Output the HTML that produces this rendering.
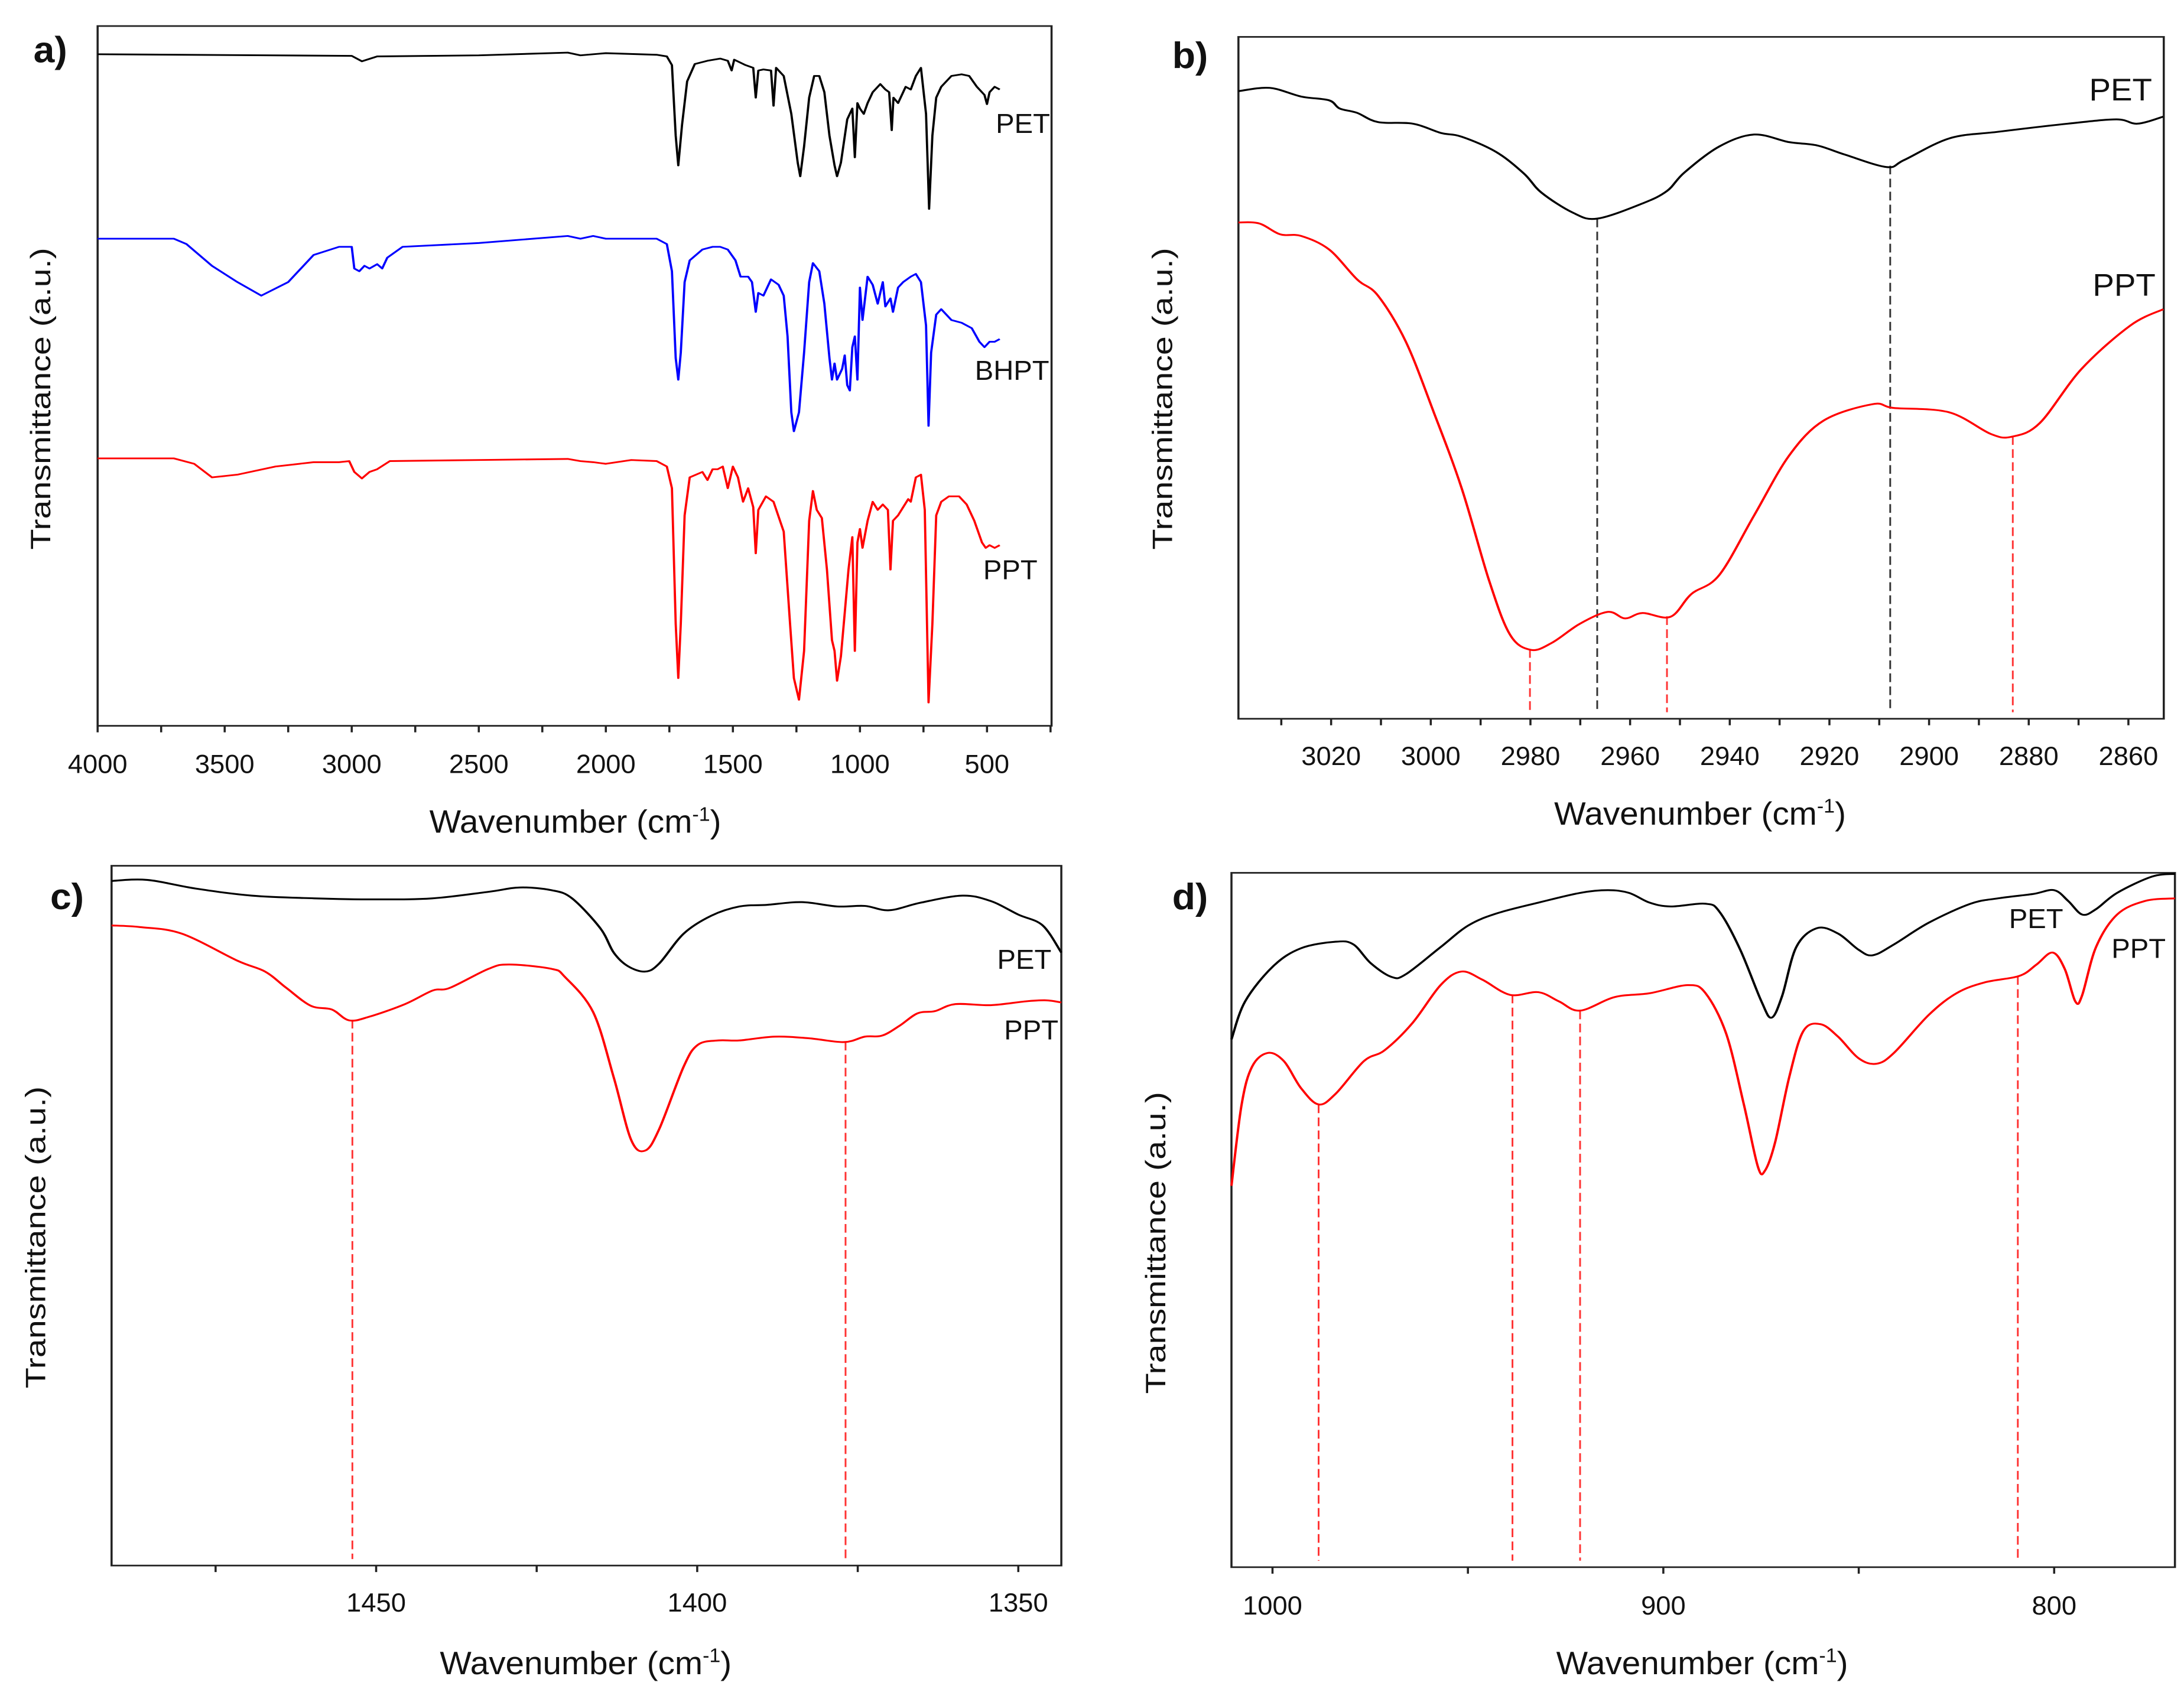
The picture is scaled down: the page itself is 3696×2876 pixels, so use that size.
<!DOCTYPE html>
<html><head><meta charset="utf-8">
<style>
html,body{margin:0;padding:0;background:#fff;overflow:hidden;}
svg{display:block;}
text{font-family:"Liberation Sans",sans-serif;fill:#111;}
</style></head>
<body>
<svg id="fig" width="3696" height="2876" viewBox="0 0 3132 3132" preserveAspectRatio="none" xmlns="http://www.w3.org/2000/svg"></svg>
<script>
// ---------- Panel a data (wavenumber, a.u. offset; larger = lower transmittance) ----------
const aTicks=[4000,3500,3000,2500,2000,1500,1000,500];
const aPET=[[4000,100],[3000,103],[2960,113],[2900,104],[2500,102],[2150,97],[2100,102],[2000,98],[1800,101],[1760,104],[1740,120],[1725,250],[1715,305],[1700,230],[1680,150],[1650,118],[1600,112],[1550,108],[1520,112],[1505,130],[1495,110],[1450,120],[1420,125],[1410,180],[1400,130],[1380,128],[1350,130],[1340,195],[1330,125],[1300,140],[1270,210],[1245,300],[1235,325],[1220,270],[1200,180],[1180,140],[1160,140],[1140,170],[1120,250],[1100,305],[1090,325],[1075,300],[1050,220],[1030,200],[1020,290],[1010,190],[1000,200],[985,210],[970,190],[950,170],[920,155],[900,165],[885,170],[875,240],[868,180],[850,190],[820,160],[800,165],[780,140],[760,125],[740,210],[728,385],[715,250],[700,180],[680,160],[640,140],[600,137],[570,140],[540,160],[510,175],[500,192],[490,170],[470,160],[450,165]];
const aBHPT=[[4000,440],[3700,440],[3650,450],[3550,490],[3450,520],[3356,545],[3250,520],[3150,470],[3050,455],[3000,455],[2990,495],[2970,500],[2950,490],[2930,495],[2900,487],[2880,495],[2860,475],[2800,455],[2500,448],[2150,435],[2100,440],[2050,435],[2000,440],[1800,440],[1760,450],[1740,500],[1725,660],[1715,700],[1705,650],[1690,520],[1670,480],[1620,460],[1580,455],[1550,455],[1520,460],[1490,480],[1470,510],[1440,510],[1425,520],[1410,575],[1400,540],[1380,545],[1350,515],[1320,525],[1300,545],[1285,620],[1270,760],[1260,795],[1240,760],[1220,650],[1200,520],[1185,485],[1160,500],[1140,560],[1120,660],[1110,700],[1100,670],[1090,700],[1070,680],[1060,655],[1050,710],[1040,720],[1030,640],[1020,620],[1010,700],[1000,530],[990,590],[970,510],[950,525],[930,560],[910,520],[900,565],[880,550],[870,575],[850,530],[830,520],[800,510],[780,505],[760,520],[740,600],[730,785],[720,650],[700,580],[680,570],[640,590],[600,595],[560,605],[530,630],[510,640],[490,630],[470,630],[450,625]];
const aPPT=[[4000,845],[3700,845],[3620,855],[3550,880],[3450,875],[3300,860],[3150,852],[3050,852],[3010,850],[2990,870],[2960,882],[2930,870],[2900,865],[2850,850],[2500,848],[2150,846],[2100,850],[2050,852],[2000,855],[1900,848],[1800,850],[1760,860],[1740,900],[1725,1150],[1715,1250],[1705,1150],[1690,950],[1670,880],[1620,870],[1600,885],[1580,865],[1560,865],[1540,860],[1520,900],[1500,860],[1480,880],[1460,925],[1440,900],[1420,935],[1410,1020],[1400,940],[1370,915],[1340,925],[1300,980],[1275,1150],[1260,1250],[1240,1290],[1220,1200],[1200,960],[1185,905],[1170,940],[1150,955],[1130,1050],[1110,1180],[1100,1200],[1090,1255],[1075,1210],[1060,1130],[1045,1050],[1030,990],[1020,1200],[1010,1000],[1000,975],[990,1010],[970,960],[950,925],[930,940],[910,930],[890,940],[880,1050],[870,960],[850,950],[830,935],[810,920],[800,925],[780,880],[760,875],[745,940],[730,1295],[715,1150],[700,950],[680,925],[650,915],[610,915],[580,930],[550,960],[520,1000],[505,1010],[490,1005],[470,1010],[450,1005]];
// ---------- Panel b ----------
const bTicks=[3020,3000,2980,2960,2940,2920,2900,2880,2860];
const bPET=[[3038.6,168],[3032.3,162],[3026,178],[3020.4,185],[3018.3,200],[3014.8,208],[3010.6,225],[3003.6,228],[2998,245],[2993.8,252],[2986.9,280],[2981.3,320],[2977.8,355],[2971.5,392],[2966.6,403],[2957.5,375],[2952.6,352],[2949.1,318],[2942.1,270],[2935.1,248],[2928.1,262],[2922.5,268],[2916.9,285],[2908.5,308],[2905,295],[2895.9,255],[2886.2,243],[2872.2,228],[2862.4,220],[2858.2,228],[2853,215]];
const bPPT=[[3038.6,410],[3034.4,412],[3030.2,432],[3026,435],[3020.4,460],[3014.8,515],[3010.6,545],[3005,630],[2999.4,760],[2993.8,900],[2988.3,1070],[2984.1,1170],[2979.9,1198],[2975.7,1185],[2970.1,1150],[2964.5,1128],[2961,1140],[2957.5,1130],[2951.9,1137],[2947.7,1095],[2942.1,1060],[2935.1,950],[2928.1,840],[2921.1,775],[2911.3,745],[2907.1,752],[2896,760],[2887.6,800],[2883.4,805],[2877.8,780],[2869.4,680],[2859.6,600],[2853,570]];
const bPETPeaks=[2966.6,2907.8];
const bPPTPeaks=[2980.1,2952.6,2883.2];
// ---------- Panel c ----------
const cTicks=[1450,1400,1350];
const cPET=[[1491.2,58],[1485.7,56],[1478.1,72],[1469.4,85],[1459.7,90],[1449.9,92],[1441.2,90],[1432.5,78],[1427.6,70],[1422.7,75],[1419.5,90],[1415.1,145],[1413,190],[1410.8,215],[1408.1,225],[1405.9,210],[1402.1,155],[1397.8,122],[1393.4,105],[1389.1,102],[1383.7,97],[1378.2,105],[1373.9,104],[1370.1,112],[1365.2,98],[1358.7,85],[1354.3,95],[1350,120],[1346.2,140],[1343.3,190]];
const cPPT=[[1491.2,140],[1486.8,143],[1480.3,155],[1471.6,205],[1467.3,225],[1464,255],[1460.2,288],[1456.9,295],[1454.2,315],[1451,308],[1445.5,285],[1441.2,260],[1438.5,255],[1432.5,220],[1429.3,212],[1422.7,220],[1420.6,235],[1416.2,300],[1413,420],[1410.3,535],[1408.1,555],[1405.9,515],[1402.1,400],[1399.9,360],[1396.7,352],[1393.4,352],[1388,345],[1382.6,348],[1377.1,355],[1373.9,345],[1371.2,343],[1368.5,325],[1365.7,302],[1363,298],[1359.8,285],[1354.3,287],[1348.9,280],[1345.7,278],[1343.3,282]];
const cPPTPeaks=[1453.7,1376.9];
// ---------- Panel d ----------
const dTicks=[1000,900,800];
const dPET=[[1010.5,350],[1007,280],[999.8,215],[992.7,182],[983.8,170],[979.3,175],[974.8,210],[969.5,235],[965.9,230],[957,180],[949.9,140],[942.7,118],[932,98],[921.3,80],[914.2,75],[908.8,80],[903.5,98],[898.1,105],[889.2,100],[885.6,115],[880.3,185],[874.9,280],[872.3,310],[869.6,270],[866,180],[860.7,145],[855.3,155],[850,185],[846.4,195],[841,175],[832.1,135],[821.4,100],[814.3,90],[805.4,82],[800,75],[796.4,95],[792.8,120],[789.3,110],[783.9,80],[775,50],[769.1,45]];
const dPPT=[[1010.5,620],[1007.9,470],[1005.2,400],[1001.2,375],[997.1,390],[992.7,440],[988.2,470],[983.8,450],[976.6,390],[971.3,370],[964.2,320],[957,250],[951.7,225],[946.3,240],[939.2,268],[932,263],[926.7,280],[921.3,297],[912.4,272],[903.5,265],[893.7,250],[889.2,265],[883.9,340],[879.4,470],[875.8,585],[874,592],[871.4,540],[867.8,420],[864.2,335],[859.8,322],[855.3,345],[850,385],[845.5,395],[841,375],[832.1,305],[825,265],[817.8,245],[808.9,233],[804.5,212],[800.4,190],[797.3,220],[794.6,280],[792.9,270],[789.3,180],[783.9,120],[776.8,95],[769.1,90]];
const dPPTPeaks=[988.2,938.6,921.3,809.3];

const NS="http://www.w3.org/2000/svg";
const svg=document.getElementById('fig');
const SX=0.8; // horizontal text compensation for non-uniform viewBox scaling
function el(tag,attrs,parent){const e=document.createElementNS(NS,tag);for(const k in attrs)e.setAttribute(k,attrs[k]);(parent||svg).appendChild(e);return e;}
function txt(parent,x,y,size,anchor,extra){const a={x:0,y:0,'font-size':size,'text-anchor':anchor,transform:'translate('+x+','+y+') scale('+SX+',1)'};for(const k in (extra||{}))a[k]=extra[k];return el('text',a,parent);}
function interp(series,w){for(let i=0;i<series.length-1;i++){const a=series[i],b=series[i+1];if((w<=a[0]&&w>=b[0])){const t=(a[0]-w)/(a[0]-b[0]);return a[1]+t*(b[1]-a[1]);}}return series[series.length-1][1];}
function smoothPath(pts){let d='M'+pts[0][0].toFixed(1)+','+pts[0][1].toFixed(1);for(let i=0;i<pts.length-1;i++){const p0=pts[Math.max(0,i-1)],p1=pts[i],p2=pts[i+1],p3=pts[Math.min(pts.length-1,i+2)];const c1=[p1[0]+(p2[0]-p0[0])/6,p1[1]+(p2[1]-p0[1])/6],c2=[p2[0]-(p3[0]-p1[0])/6,p2[1]-(p3[1]-p1[1])/6];d+=' C'+c1[0].toFixed(1)+','+c1[1].toFixed(1)+' '+c2[0].toFixed(1)+','+c2[1].toFixed(1)+' '+p2[0].toFixed(1)+','+p2[1].toFixed(1);}return d;}

function panel(cfg){
  const g=el('g',{transform:'translate('+cfg.ox+','+cfg.oy+')'});
  
  
  const L=cfg.box[0],R=cfg.box[1],T=cfg.box[2],B=cfg.box[3];
  const xs=w=>L+(cfg.xd[0]-w)/(cfg.xd[0]-cfg.xd[1])*(R-L);
  const ys=v=>T+(v-cfg.yd[0])/(cfg.yd[1]-cfg.yd[0])*(B-T);
  const frame=el('rect',{x:L,y:T,width:R-L,height:B-T,fill:'none',stroke:'#222','stroke-width':3},g);
  
  
  for(let w=cfg.minorStart;w>=cfg.xd[1];w-=cfg.minorStep){if(w>cfg.xd[0])continue;const x=xs(w);const t=el('line',{x1:x,x2:x,y1:B,y2:B+12,stroke:'#222','stroke-width':3},g);}
  cfg.ticks.forEach(w=>{const x=xs(w);
    const lab=txt(g,x,cfg.tickY,48,'middle');lab.textContent=w;
    
    });
  const xt=txt(g,cfg.xTitle[0],cfg.xTitle[1],60,'middle');
  xt.innerHTML='Wavenumber (cm<tspan dy="-22" font-size="36">-1</tspan><tspan dy="22">)</tspan>';
  
  
  const yt=el('text',{x:0,y:0,'text-anchor':'middle','font-size':50,transform:'translate('+cfg.yTitle[0]+','+cfg.yTitle[1]+') rotate(-90) scale(1.25,'+SX+')'},g);
  yt.textContent='Transmittance (a.u.)';
  
  
  const pl=txt(g,cfg.plabel[0],cfg.plabel[1],68,'start',{'font-weight':'bold'});
  pl.textContent=cfg.id+')';
  
  
  (cfg.markers||[]).forEach(m=>{m.peaks.forEach(w=>{const x=xs(w);
    const ln=el('line',{x1:x,x2:x,y1:ys(interp(m.series,w)),y2:B-12,stroke:m.color,'stroke-width':2.5,'stroke-dasharray':'16,8'},g);
    
    });});
  cfg.series.forEach(s=>{
    const pts=s.data.map(p=>[xs(p[0]),ys(p[1])]);
    let p;
    if(cfg.smooth){p=el('path',{d:smoothPath(pts),fill:'none',stroke:s.color,'stroke-width':3.4,'stroke-linejoin':'round'},g);}
    else{p=el('polyline',{points:pts.map(q=>q[0].toFixed(1)+','+q[1].toFixed(1)).join(' '),fill:'none',stroke:s.color,'stroke-width':3.2,'stroke-linejoin':'round'},g);}
    
    
    const t=txt(g,s.label[0],s.label[1],cfg.labelSize||50,'start');t.textContent=s.name;
    
    
  });
}

panel({id:'a',ox:0,oy:0,box:[140,1508,48,1338],xd:[4000,246],yd:[48,1338],ticks:aTicks,minorStart:4000,minorStep:250,tickY:1425,xTitle:[825,1535],yTitle:[72,735],plabel:[48,115],smooth:false,
  series:[{name:'PET',data:aPET,color:'#000',label:[1428,245]},{name:'BHPT',data:aBHPT,color:'#0000ff',label:[1398,700]},{name:'PPT',data:aPPT,color:'#ff0000',label:[1410,1068]}]});
panel({id:'b',ox:1566,oy:0,box:[210,1537,68,1325],xd:[3038.6,2852.9],yd:[68,1325],ticks:bTicks,minorStart:3030,minorStep:10,tickY:1410,xTitle:[872,1520],yTitle:[115,735],plabel:[115,125],smooth:true,labelSize:58,
  series:[{name:'PET',data:bPET,color:'#000',label:[1430,185]},{name:'PPT',data:bPPT,color:'#ff0000',label:[1435,545]}],
  markers:[{peaks:bPETPeaks,series:bPET,color:'#333'},{peaks:bPPTPeaks,series:bPPT,color:'#ff3333'}]});
panel({id:'c',ox:0,oy:1566,box:[160,1522,30,1320],xd:[1491.2,1343.3],yd:[30,1320],ticks:cTicks,minorStart:1475,minorStep:25,tickY:1405,xTitle:[840,1520],yTitle:[65,715],plabel:[72,110],smooth:true,
  series:[{name:'PET',data:cPET,color:'#000',label:[1430,220]},{name:'PPT',data:cPPT,color:'#ff0000',label:[1440,350]}],
  markers:[{peaks:cPPTPeaks,series:cPPT,color:'#ff3333'}]});
panel({id:'d',ox:1566,oy:1566,box:[200,1553,43,1323],xd:[1010.5,769.1],yd:[43,1323],ticks:dTicks,minorStart:1000,minorStep:50,tickY:1410,xTitle:[875,1520],yTitle:[105,725],plabel:[115,110],smooth:true,
  series:[{name:'PET',data:dPET,color:'#000',label:[1315,145]},{name:'PPT',data:dPPT,color:'#ff0000',label:[1462,200]}],
  markers:[{peaks:dPPTPeaks,series:dPPT,color:'#ff3333'}]});
</script>
</body></html>
